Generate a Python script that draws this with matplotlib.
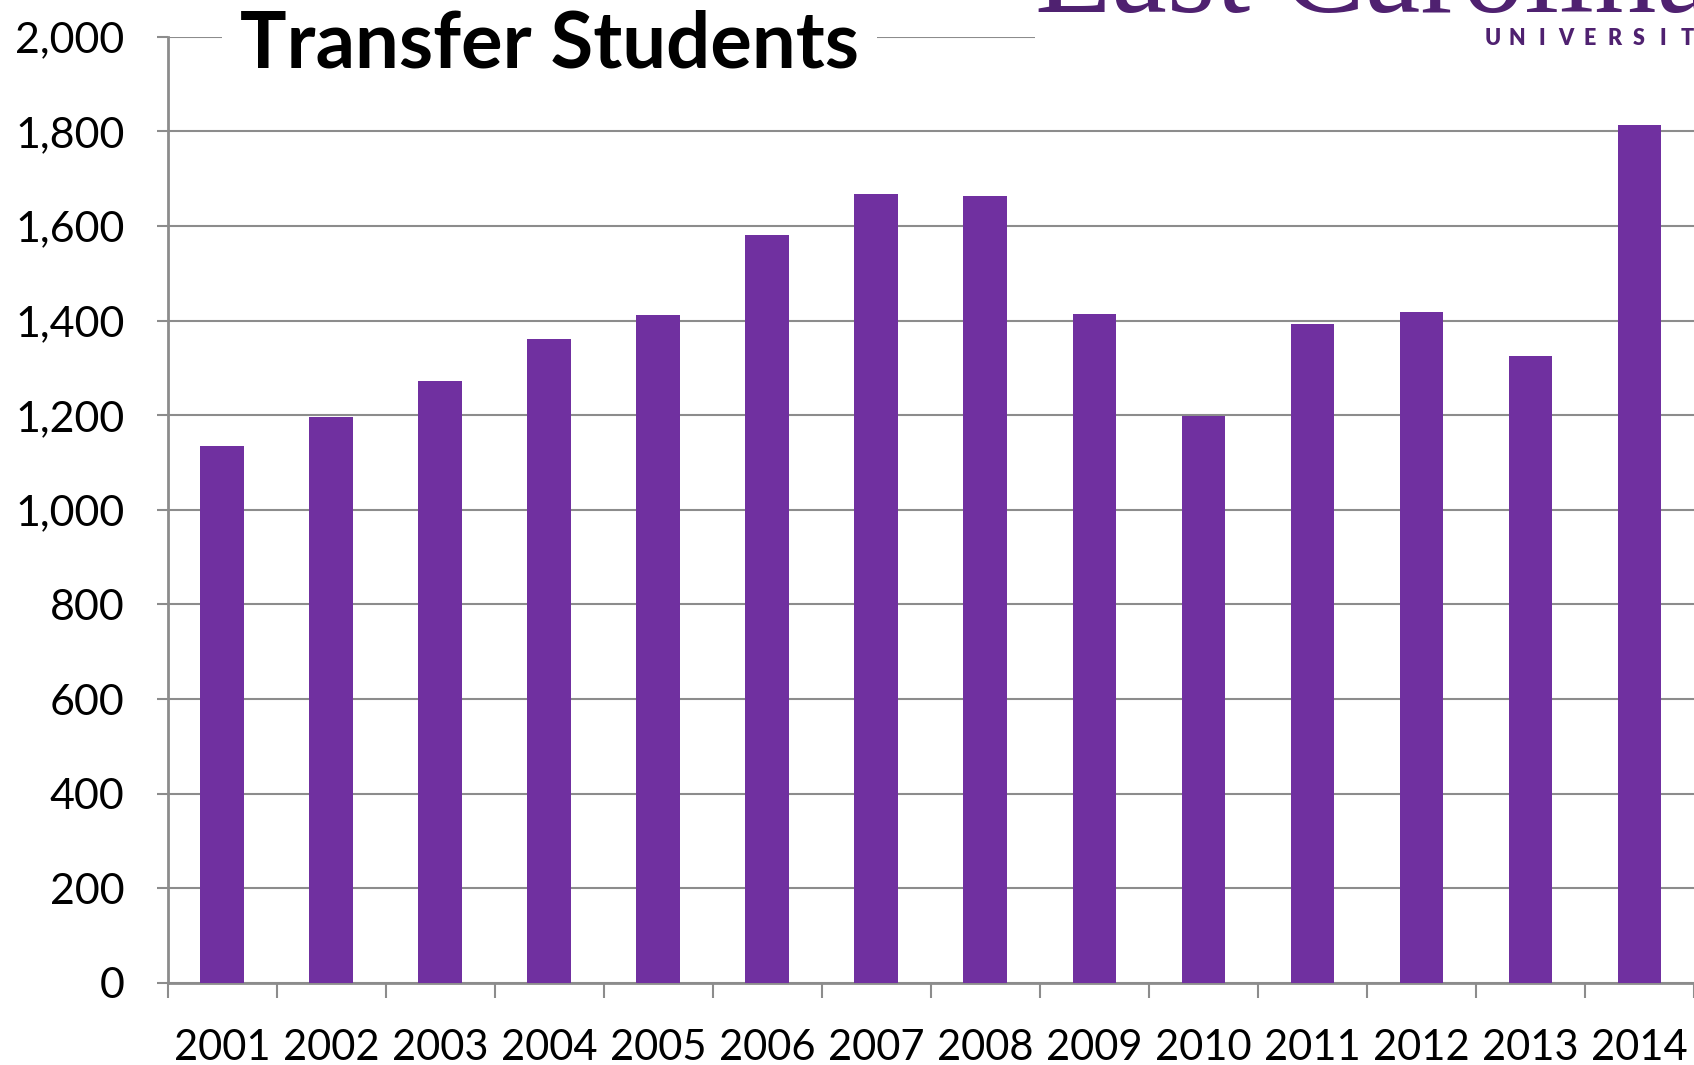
import matplotlib.pyplot as plt
import numpy as np

years = ['2001', '2002', '2003', '2004', '2005', '2006', '2007',
         '2008', '2009', '2010', '2011', '2012', '2013', '2014']
transfers = [1135, 1196, 1272, 1361, 1411, 1580, 1667,
             1664, 1413, 1199, 1393, 1418, 1326, 1813]
y_ticks = [0, 200, 400, 600, 800, 1000, 1200, 1400, 1600, 1800, 2000]

bar_color = '#7030A0'
grid_color = '#8C8C8C'
logo_color = '#4F2170'
font = ['Lato', 'DejaVu Sans']

fig = plt.figure(figsize=(16.94, 10.65), dpi=100)
ax = fig.add_axes([0.0989, 0.077, 0.9011, 0.8885])

x = np.arange(len(years))
ax.bar(x, transfers, width=0.4, color=bar_color, zorder=3)

ax.set_xlim(-0.5, len(years) - 0.5)
ax.set_ylim(0, 2000)

ax.set_yticks(y_ticks)
ax.set_yticklabels([f'{v:,}' for v in y_ticks], family=font, fontsize=31)
ax.set_xticks(x)
ax.set_xticklabels(years, family=font, fontsize=30)
ax.set_xticks(np.arange(len(years) + 1) - 0.5, minor=True)

ax.tick_params(axis='x', which='major', length=0, pad=33)
ax.tick_params(axis='x', which='minor', length=11, width=1.5,
               color=grid_color, direction='out')
ax.tick_params(axis='y', length=8, width=1.5, color=grid_color, pad=23)

ax.grid(axis='y', color=grid_color, linewidth=1.5, zorder=0)
ax.set_axisbelow(True)
for side in ['top', 'right']:
    ax.spines[side].set_visible(False)
for side in ['left', 'bottom']:
    ax.spines[side].set_color(grid_color)
    ax.spines[side].set_linewidth(2)

# title sits on a white box over the top gridline
fig.text(240 / 1694, 1 - 67 / 1065, 'Transfer Students', family=font,
         fontsize=56, fontweight='bold', ha='left', va='baseline', zorder=10,
         bbox=dict(facecolor='white', edgecolor='none', pad=13))

# logo block in the top right corner
fig.patches.append(plt.Rectangle((1035 / 1694, 1 - 52 / 1065), 0.4, 0.06,
                                 transform=fig.transFigure,
                                 facecolor='white', edgecolor='none',
                                 zorder=9))
fig.text(1035 / 1694, 1 - 12 / 1065, 'East Carolina',
         family='Liberation Serif', fontsize=90, color=logo_color,
         ha='left', va='baseline', zorder=10)
for i, letter in enumerate('UNIVERSITY'):
    fig.text((1493 + 24.25 * i) / 1694, 1 - 45 / 1065, letter, family=font,
             fontsize=15.5, fontweight='heavy', color=logo_color, ha='center',
             va='baseline', zorder=10)

fig.savefig('out.png', dpi=100, facecolor='white')
